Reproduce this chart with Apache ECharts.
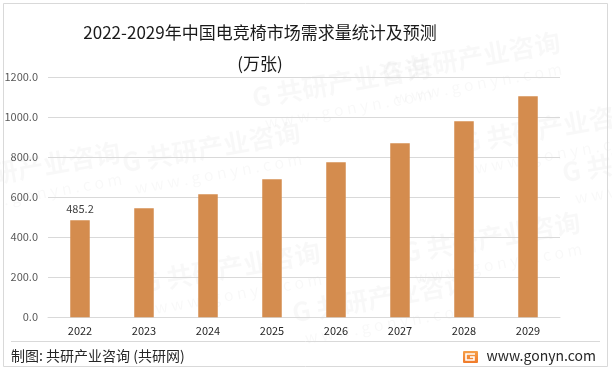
<!DOCTYPE html>
<html>
<head>
<meta charset="utf-8">
<script src="https://cdn.jsdelivr.net/npm/echarts@6/dist/echarts.min.js"></script>
<style>
html,body{margin:0;padding:0;background:#fff;}
#main{width:612px;height:371px;}
</style>
</head>
<body>
<div id="main"></div>
<script>
var categories = ['2022','2023','2024','2025','2026','2027','2028','2029'];
var demand = [485.2, 545, 615, 690, 775, 870, 980, 1105];
var yTicks = [0, 200, 400, 600, 800, 1000, 1200];

var FONT = '"Noto Sans CJK SC","Noto Sans",sans-serif';
var chart = echarts.init(document.getElementById('main'));

function wm(x, y, rot) {
  return {
    type: 'group', x: x, y: y, rotation: rot * Math.PI / 180, silent: true, z: 0,
    children: [
      {type: 'text', style: {x: 0, y: 0, text: 'G 共研产业咨询', fill: 'rgba(0,0,0,0.028)', font: 'bold 26px ' + FONT}},
      {type: 'text', style: {x: 8, y: 32, text: 'w w w . g o n y n . c o m', fill: 'rgba(0,0,0,0.028)', font: '16px ' + FONT}}
    ]
  };
}

chart.setOption({
  backgroundColor: '#fff',
  animation: false,
  grid: {left: 48, right: 52, top: 77.3, bottom: 53.7, containLabel: false},
  xAxis: {
    type: 'category',
    data: categories,
    axisLine: {lineStyle: {color: '#d9d9d9', width: 1}},
    axisTick: {show: false},
    axisLabel: {color: '#262626', fontSize: 11, fontFamily: FONT, margin: 8}
  },
  yAxis: {
    type: 'value',
    min: yTicks[0],
    max: yTicks[yTicks.length - 1],
    interval: yTicks[1] - yTicks[0],
    axisLine: {show: false},
    axisTick: {show: false},
    axisLabel: {color: '#595959', fontSize: 11, fontFamily: FONT, margin: 10,
      formatter: function (v) { return v.toFixed(1); }},
    splitLine: {lineStyle: {color: '#d9d9d9', width: 1}}
  },
  series: [{
    type: 'bar',
    data: demand.map(function (v, i) {
      return i === 0 ? {value: v, label: {show: true}} : v;
    }),
    barWidth: '30.5%',
    itemStyle: {color: '#D48C4E'},
    label: {show: false, position: 'top', color: '#404040', fontSize: 11, fontFamily: FONT, distance: 6,
      formatter: function (p) { return p.value.toFixed(1); }},
    z: 2
  }],
  graphic: [
    wm(120, 150, 10), wm(250, 85, 10), wm(290, 300, 10), wm(400, 240, 10), wm(460, 130, 10),
    wm(140, 270, 10), wm(560, 160, 10), wm(380, 60, 10), wm(-60, 170, 10),
    {type: 'rect', shape: {x: 3.5, y: 3.5, width: 604, height: 363}, style: {fill: 'none', stroke: '#d9d9d9', lineWidth: 1}, silent: true, z: 10},
    {type: 'line', shape: {x1: 11, y1: 341.5, x2: 600, y2: 341.5}, style: {stroke: '#d9d9d9', lineWidth: 1}, z: 10},
    {type: 'text', style: {x: 260, y: 33, text: '2022-2029年中国电竞椅市场需求量统计及预测', fill: '#1a1a1a', font: '17px ' + FONT, textAlign: 'center', textVerticalAlign: 'middle'}, z: 10},
    {type: 'text', style: {x: 260, y: 64, text: '(万张)', fill: '#1a1a1a', font: '17px ' + FONT, textAlign: 'center', textVerticalAlign: 'middle'}, z: 10},
    {type: 'text', style: {x: 11, y: 356, text: '制图: 共研产业咨询 (共研网)', fill: '#262626', font: '14px ' + FONT, textVerticalAlign: 'middle'}, z: 10},
    {type: 'text', style: {x: 596, y: 356, text: 'www.gonyn.com', fill: '#262626', font: '14px ' + FONT, textAlign: 'right', textVerticalAlign: 'middle'}, z: 10},
    {type: 'rect', shape: {x: 463, y: 351, width: 15, height: 12, r: 1},
      style: {fill: new echarts.graphic.LinearGradient(0, 0, 0, 1, [{offset: 0, color: '#F5A04A'}, {offset: 1, color: '#F07A2A'}])}, z: 10},
    {type: 'polyline', shape: {points: [[475, 354], [466, 354], [466, 360], [474, 360], [474, 357], [470, 357]]},
      style: {stroke: '#fff', lineWidth: 1.6, fill: 'none'}, z: 11}
  ]
});
</script>
</body>
</html>
